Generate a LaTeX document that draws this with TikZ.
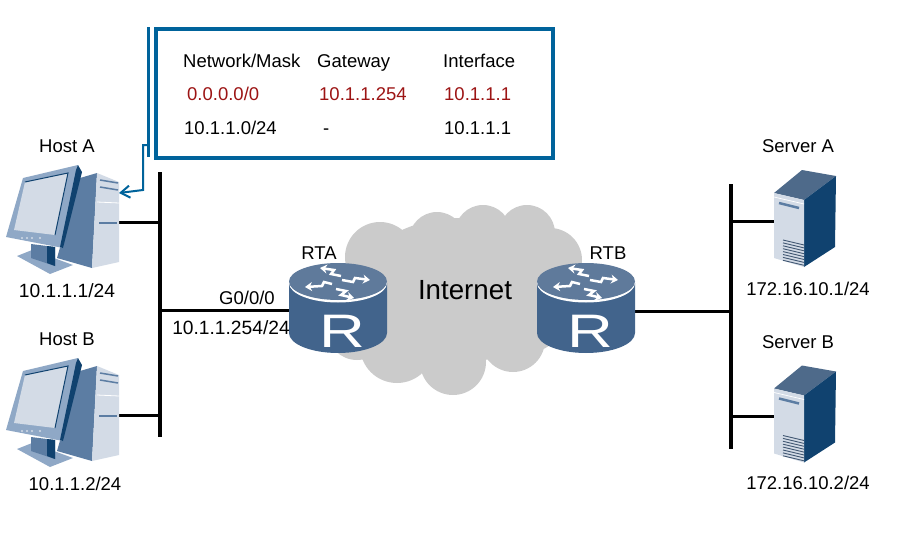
\documentclass[tikz,border=0pt]{standalone}
\usepackage{fontspec}
\setmainfont{Liberation Sans}
\usetikzlibrary{arrows.meta}
\definecolor{callout}{HTML}{00639B}
\definecolor{cloudgrey}{HTML}{CBCBCB}
\definecolor{rtbody}{HTML}{42648C}
\definecolor{rttop}{HTML}{5F7A9B}
\definecolor{pale}{HTML}{D3DBE6}
\definecolor{midblue}{HTML}{5C7DA3}
\definecolor{frameblue}{HTML}{8FA8C6}
\definecolor{deepblue}{HTML}{10426F}
\definecolor{redtext}{HTML}{9C1414}
\tikzset{
  lbl/.style={font=\fontsize{18.5}{20}\selectfont,inner sep=0pt,text height=13.3pt,text depth=0pt},
  lblbig/.style={lbl,font=\fontsize{19.2}{20}\selectfont},
  tbl/.style={lbl,anchor=west},
  tblred/.style={tbl,text=redtext},
  bus/.style={line width=4pt,black},
  link/.style={line width=3pt,black},
  rarrow/.style={white,line width=2.5pt,-{Stealth[length=7pt,width=9pt]}},
  pics/hostpc/.style={code={
    % tower side
    \fill[midblue] (80,178) -- (97,173) -- (92,268) -- (57,258) -- cycle;
    % tower front
    \fill[pale] (97,173) -- (119,182) -- (119,262) -- (92,268) -- cycle;
    \draw[white,line width=.8pt] (97,202) -- (119,203);
    \draw[midblue,line width=1.5pt] (100,180) -- (118,183) (100,187) -- (118,190);
    \draw[midblue,line width=2.5pt] (99,223) -- (117,223);
    % base and stand
    \fill[frameblue] (17,256) -- (32,250) -- (73,265) -- (50,274) -- cycle;
    \fill[midblue] (31,244) -- (55,247) -- (55,266) -- (31,258) -- cycle;
    \fill[deepblue] (47,246) -- (55,247) -- (55,266) -- (47,263) -- cycle;
    % monitor
    \fill[frameblue] (6,237) -- (23,178) -- (78,165) -- (63,248) -- cycle;
    \fill[deepblue] (76,170) -- (78,165) -- (82,172) -- (63,248) -- (60,247) -- cycle;
    \fill[pale] (25,182) -- (68,173) -- (55,235) -- (14,230) -- cycle;
    \draw[deepblue,line width=1pt] (25,182) -- (68,173) -- (55,235);
    \foreach \dx in {22,27,32,40} \fill[pale] (\dx,238) circle (1.2);
  }},
  pics/serverbox/.style={code={
    \fill[midblue!85!black] (774,193) -- (802,170) -- (836,176) -- (804,200) -- cycle;
    \fill[deepblue] (804,200) -- (836,176) -- (835,247) -- (804,267) -- cycle;
    \fill[pale] (774,193) -- (804,200) -- (804,267) -- (774,258) -- cycle;
    \draw[white,line width=.7pt] (774,197) -- (804,204);
    \draw[midblue,line width=2.5pt] (779,203) -- (799,208);
    \foreach \i in {0,...,7}
      \draw[midblue!70!black,line width=.9pt] (783,{240+\i*2.9}) -- (804,{245+\i*2.9});
  }},
  pics/routerdrum/.style={code={
    \fill[rtbody] (-49,0) -- (-49,50) arc[start angle=180,end angle=0,x radius=49,y radius=20] -- (49,0) -- cycle;
    \fill[white] (0,0) ellipse[x radius=49,y radius=19.5];
    \fill[rttop] (0,-1.5) ellipse[x radius=49,y radius=18.5];
    \draw[rarrow] (-6,1) -- (-14,-1) -- (-16,3) -- (-33,4);
    \draw[rarrow] (4,-3) -- (15,-1) -- (17,-5) -- (32,-3);
    \draw[rarrow] (3,-7) -- (-7,-9) -- (-4,-13) -- (-18,-15);
    \draw[rarrow] (-2,6) -- (8,8) -- (3,12) -- (16,15);
    \node[white,inner sep=0pt,xscale=1.35,font=\fontsize{47}{47}\selectfont] at (4,48) {R};
  }}
}
\begin{document}
\begin{tikzpicture}[x=1pt,y=-1pt]
\useasboundingbox (0,0) rectangle (897,546);
% cloud
\fill[cloudgrey]
  (380,257) circle (35) (437,240) circle (28) (483,233) circle (28)
  (527,233) circle (28) (550,260) circle (32) (397,346) circle (37)
  (453,362) circle (33) (513,340) circle (32) (357,330) circle (30)
  (530,320) circle (32) (460,290) ellipse[x radius=105,y radius=72];
% named places
\coordinate (busLtop) at (160,172);
\coordinate (busLbot) at (160,437);
\coordinate (busRtop) at (731,184);
\coordinate (busRbot) at (731,449);
\coordinate (hostAport) at (119,222);
\coordinate (hostBport) at (119,415);
\coordinate (busLa) at (160,222);
\coordinate (busLb) at (160,415);
\coordinate (busLr) at (160,310);
\coordinate (rtaPort) at (290,310);
\coordinate (rtbPort) at (634,311);
\coordinate (busRr) at (731,311);
\coordinate (busRa) at (731,221);
\coordinate (busRb) at (731,416);
\coordinate (srvAport) at (775,221);
\coordinate (srvBport) at (775,416);
\coordinate (barTop) at (148,27);
\coordinate (barBot) at (148,157);
\coordinate (barTap) at (148,145);
\coordinate (hostAtip) at (119,193);
% connectors
\draw[bus] (busLtop) -- (busLbot);
\draw[bus] (busRtop) -- (busRbot);
\draw[link] (hostAport) -- (busLa);
\draw[link] (hostBport) -- (busLb);
\draw[link] (busLr) -- (rtaPort);
\draw[link] (rtbPort) -- (busRr);
\draw[link] (busRa) -- (srvAport);
\draw[link] (busRb) -- (srvBport);
% devices
\pic at (0,0) {hostpc};
\pic at (0,193) {hostpc};
\pic at (0,0) {serverbox};
\pic at (0,195.5) {serverbox};
\pic at (338,283) {routerdrum};
\pic at (586,283) {routerdrum};
% callout
\node[draw=callout,line width=3.5pt,minimum width=397pt,minimum height=129pt,inner sep=0pt,anchor=north west] (tablebox) at (154,27) {};
\draw[callout,line width=3pt] (barTop) -- (barBot);
\draw[callout,line width=2pt,-{Straight Barb[length=9pt,width=12pt]}] (barTap) -- (143,145) -- (143,190) -- (hostAtip);
% labels
\node[lbl] (hostAname) at (67,146) {Host A};
\node[lblbig] (hostAip) at (67,291) {10.1.1.1/24};
\node[lbl] (hostBname) at (67,339) {Host B};
\node[lbl] (hostBip) at (75,484) {10.1.1.2/24};
\node[lbl] (gport) at (247,298) {G0/0/0};
\node[lblbig] (gip) at (231,328) {10.1.1.254/24};
\node[lbl] (rtaname) at (319,253) {RTA};
\node[lbl] (rtbname) at (608,253) {RTB};
\node[inner sep=0pt,font=\fontsize{27.7}{30}\selectfont] (cloudname) at (465,290) {Internet};
\node[lbl] (srvAname) at (798,146) {Server A};
\node[lbl] (srvAip) at (808,289) {172.16.10.1/24};
\node[lbl] (srvBname) at (798,342) {Server B};
\node[lbl] (srvBip) at (808,483) {172.16.10.2/24};
% table
\node[tbl] (t11) at (183,61) {Network/Mask};
\node[tbl] (t12) at (317,61) {Gateway};
\node[tbl] (t13) at (443,61) {Interface};
\node[tblred] (t21) at (187,94) {0.0.0.0/0};
\node[tblred] (t22) at (319,94) {10.1.1.254};
\node[tblred] (t23) at (444,94) {10.1.1.1};
\node[tbl] (t31) at (184,128) {10.1.1.0/24};
\node[tbl] (t32) at (323,128) {-};
\node[tbl] (t33) at (444,128) {10.1.1.1};
\end{tikzpicture}
\end{document}
